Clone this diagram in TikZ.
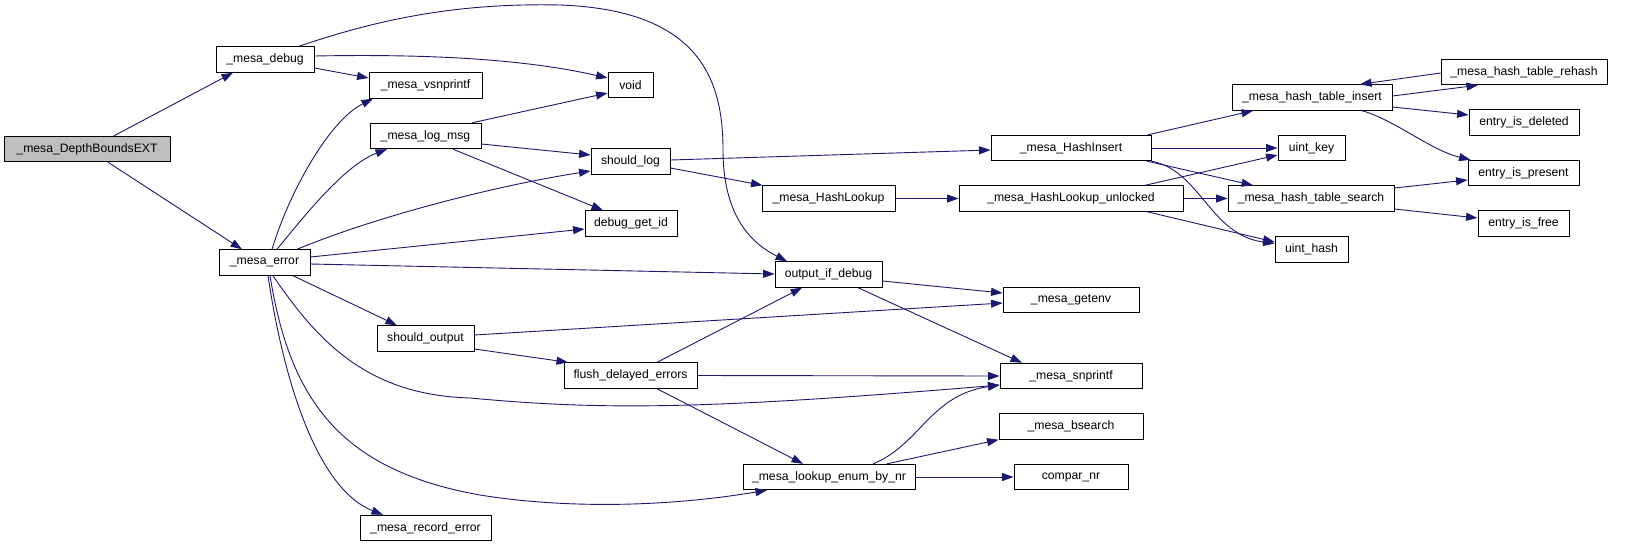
\documentclass[tikz,border=0pt]{standalone}
\usepackage{fontspec}
\setmainfont{Liberation Sans}
\usetikzlibrary{arrows.meta}
\definecolor{edgeblue}{RGB}{25,25,112}
\definecolor{rootgray}{RGB}{191,191,191}
\begin{document}
\begin{tikzpicture}[x=1pt,y=1pt,
  fn/.style={draw=black,line width=0.9pt,fill=white,minimum height=25.5pt,inner sep=0pt,font=\fontsize{12.2}{14}\selectfont},
  root/.style={fn,fill=rootgray},
  e/.style={draw=edgeblue,line width=0.9pt,-{Triangle[length=11.5pt,width=8pt]}}]
\useasboundingbox (0,0) rectangle (1648,-547);
\fill[white] (0,0) rectangle (1648,-547);
% nodes
\node[root,minimum width=166pt] (dbe) at (87,-149) {\_mesa\_DepthBoundsEXT};
\node[fn,minimum width=98pt] (dbg) at (265,-59.5) {\_mesa\_debug};
\node[fn,minimum width=113pt] (vsn) at (425.5,-85.5) {\_mesa\_vsnprintf};
\node[fn,minimum width=111pt] (lmsg) at (425.5,-136) {\_mesa\_log\_msg};
\node[fn,minimum width=91pt] (err) at (264.5,-262.5) {\_mesa\_error};
\node[fn,minimum width=97pt] (sout) at (425.5,-338.5) {should\_output};
\node[fn,minimum width=131pt] (rec) at (425.5,-528) {\_mesa\_record\_error};
\node[fn,minimum width=45pt] (void) at (630.5,-85) {void};
\node[fn,minimum width=79pt] (slog) at (630.5,-161.5) {should\_log};
\node[fn,minimum width=92pt] (dgi) at (631,-223.5) {debug\_get\_id};
\node[fn,minimum width=160pt] (hins) at (1071,-148) {\_mesa\_HashInsert};
\node[fn,minimum width=133pt] (hlk) at (828.5,-198.5) {\_mesa\_HashLookup};
\node[fn,minimum width=224pt] (hlku) at (1071,-198.5) {\_mesa\_HashLookup\_unlocked};
\node[fn,minimum width=107pt] (oid) at (828.5,-274.5) {output\_if\_debug};
\node[fn,minimum width=133pt] (flush) at (630.5,-375.5) {flush\_delayed\_errors};
\node[fn,minimum width=136pt] (genv) at (1071,-300) {\_mesa\_getenv};
\node[fn,minimum width=142pt] (snp) at (1071,-376) {\_mesa\_snprintf};
\node[fn,minimum width=144pt] (bs) at (1071,-426.5) {\_mesa\_bsearch};
\node[fn,minimum width=172pt] (lenum) at (829,-477) {\_mesa\_lookup\_enum\_by\_nr};
\node[fn,minimum width=114pt] (cnr) at (1071,-477) {compar\_nr};
\node[fn,minimum width=166pt] (rehash) at (1524,-72) {\_mesa\_hash\_table\_rehash};
\node[fn,minimum width=160pt] (tins) at (1312,-97.5) {\_mesa\_hash\_table\_insert};
\node[fn,minimum width=110pt] (edel) at (1524,-122.5) {entry\_is\_deleted};
\node[fn,minimum width=67pt] (ukey) at (1311.5,-148) {uint\_key};
\node[fn,minimum width=111pt] (epres) at (1523.5,-173) {entry\_is\_present};
\node[fn,minimum width=166pt] (srch) at (1311,-198.5) {\_mesa\_hash\_table\_search};
\node[fn,minimum width=91pt] (efree) at (1523.5,-223.5) {entry\_is\_free};
\node[fn,minimum width=73pt] (uhash) at (1311.5,-249.5) {uint\_hash};
% edges
\path[e] ([xshift=27pt]dbe.north) -- ([xshift=-32pt]dbg.south);
\path[e] ([xshift=21pt]dbe.south) -- ([xshift=-22.5pt]err.north);
\path[e] ([xshift=34pt]dbg.north) .. controls (390,-15) and (470,-3) .. (560,-5)
   .. controls (700,-10) and (723,-80) .. (723,-150)
   .. controls (723,-220) and (755,-245) .. ([xshift=-41.5pt]oid.north);
\path[e] ([yshift=3.5pt]dbg.east) .. controls (420,-54) and (520,-58) .. ([yshift=7pt]void.west);
\path[e] ([yshift=-8.5pt]dbg.east) -- ([yshift=7.5pt]vsn.west);
\path[e] ([xshift=7.5pt]err.north) .. controls (290,-190) and (330,-120) .. ([xshift=-52.5pt]vsn.south);
\path[e] ([xshift=12.5pt]err.north) .. controls (305,-215) and (345,-165) .. ([xshift=-38.5pt]lmsg.south);
\path[e] ([xshift=32.5pt]err.north) .. controls (380,-215) and (500,-185) .. ([yshift=-9.5pt]slog.west);
\path[e] ([yshift=5.5pt]err.east) -- ([yshift=-5.5pt]dgi.west);
\path[e] ([yshift=-1.5pt]err.east) -- ([yshift=0.5pt]oid.west);
\path[e] ([xshift=28.5pt]err.south) -- ([xshift=-28.5pt]sout.north);
\path[e] ([xshift=8.5pt]err.south) .. controls (320,-345) and (370,-395) .. (470,-398)
   .. controls (600,-410) and (700,-410) .. ([yshift=-9pt]snp.west);
\path[e] ([xshift=5.5pt]err.south) .. controls (290,-400) and (340,-470) .. (480,-495)
   .. controls (560,-508) and (660,-508) .. ([xshift=-62pt]lenum.south);
\path[e] ([xshift=3.5pt]err.south) .. controls (285,-390) and (320,-490) .. ([xshift=-42.5pt]rec.north);
\path[e] ([xshift=46.5pt]lmsg.north) -- ([yshift=-8pt]void.west);
\path[e] ([yshift=-8pt]lmsg.east) -- ([yshift=6.5pt]slog.west);
\path[e] ([xshift=27.5pt]lmsg.south) -- ([xshift=-28pt]dgi.north);
\path[e] ([yshift=1.5pt]slog.east) -- ([yshift=-2pt]hins.west);
\path[e] ([yshift=-6.5pt]slog.east) -- ([xshift=-66pt]hlk.north);
\path[e] (hlk.east) -- (hlku.west);
\path[e] ([xshift=74pt]hlku.north) -- ([yshift=-7pt]ukey.west);
\path[e] (hlku.east) -- (srch.west);
\path[e] ([xshift=76pt]hlku.south) -- ([yshift=7.5pt]uhash.west);
\path[e] ([xshift=77pt]hins.north) -- ([xshift=-59pt]tins.south);
\path[e] (hins.east) -- (ukey.west);
\path[e] ([xshift=76pt]hins.south) -- ([xshift=-58pt]srch.north);
\path[e] (hins.south east) .. controls (1200,-170) and (1210,-235) .. ([yshift=6pt]uhash.west);
\path[e] ([yshift=1.5pt]tins.east) -- ([xshift=-46pt]rehash.south);
\path[e] ([yshift=-1pt]rehash.west) -- ([xshift=48pt]tins.north);
\path[e] ([yshift=-9.5pt]tins.east) -- ([yshift=7.5pt]edel.west);
\path[e] ([xshift=50pt]tins.south) .. controls (1395,-120) and (1430,-150) .. ([xshift=-53pt]epres.north);
\path[e] ([yshift=10.5pt]srch.east) -- ([yshift=-7pt]epres.west);
\path[e] ([yshift=-10.5pt]srch.east) -- ([yshift=5.5pt]efree.west);
\path[e] ([yshift=-6.5pt]oid.east) -- ([yshift=7pt]genv.west);
\path[e] ([xshift=29.5pt]oid.south) -- ([xshift=-49pt]snp.north);
\path[e] ([yshift=3.5pt]sout.east) -- ([yshift=-3pt]genv.west);
\path[e] ([yshift=-10.5pt]sout.east) -- ([xshift=-62.5pt]flush.north);
\path[e] ([xshift=26.5pt]flush.north) -- ([xshift=-26.5pt]oid.south);
\path[e] (flush.east) -- (snp.west);
\path[e] ([xshift=26.5pt]flush.south) -- ([xshift=-26pt]lenum.north);
\path[e] ([xshift=44pt]lenum.north) .. controls (920,-445) and (930,-395) .. ([yshift=-9pt]snp.west);
\path[e] ([xshift=58pt]lenum.north) -- (bs.south west);
\path[e] (lenum.east) -- (cnr.west);
\end{tikzpicture}
\end{document}
